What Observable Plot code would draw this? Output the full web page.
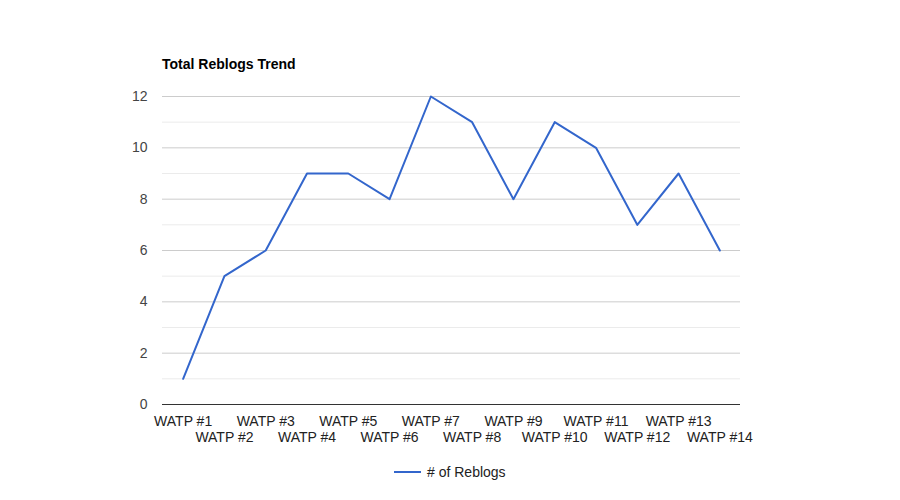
<!DOCTYPE html>
<html>
<head>
<meta charset="utf-8">
<script src="https://cdn.jsdelivr.net/npm/d3@7"></script>
<script src="https://cdn.jsdelivr.net/npm/@observablehq/plot@0.6"></script>
<style>
  html, body { margin: 0; padding: 0; background: #fff; }
  #wrap { position: relative; width: 900px; height: 500px; font-family: Arial, "Liberation Sans", sans-serif; }
  #title { position: absolute; left: 162px; top: 56px; font-size: 14px; font-weight: bold; color: #000; }
  #legend { position: absolute; left: 394px; top: 464px; font-size: 14px; color: #222; display: flex; align-items: center; }
  #legend .sw { width: 27px; height: 2px; background: #3366cc; margin-right: 6px; }
</style>
</head>
<body>
<div id="wrap">
  <div id="chart"></div>
  <div id="title">Total Reblogs Trend</div>
  <div id="legend"><span class="sw"></span><span># of Reblogs</span></div>
</div>
<script>
const categories = ["WATP #1","WATP #2","WATP #3","WATP #4","WATP #5","WATP #6","WATP #7","WATP #8","WATP #9","WATP #10","WATP #11","WATP #12","WATP #13","WATP #14"];
const reblogs = [1,5,6,9,9,8,12,11,8,11,10,7,9,6];
const majorTicks = [0,2,4,6,8,10,12];
const minorTicks = [1,3,5,7,9,11];

const data = categories.map((c, i) => ({cat: c, value: reblogs[i]}));
const rowA = categories.filter((c, i) => i % 2 === 0);
const rowB = categories.filter((c, i) => i % 2 === 1);

const chart = Plot.plot({
  width: 900,
  height: 500,
  marginLeft: 162,
  marginRight: 160,
  marginTop: 96,
  marginBottom: 96,
  style: {fontFamily: 'Arial, "Liberation Sans", sans-serif', fontSize: "14px", color: "#444", background: "transparent"},
  x: {type: "point", domain: categories, padding: 0.5, round: false},
  y: {domain: [0, 12]},
  marks: [
    Plot.ruleY(minorTicks, {stroke: "#ebebeb", strokeWidth: 1}),
    Plot.ruleY(majorTicks.filter(d => d !== 0), {stroke: "#cccccc", strokeWidth: 1}),
    Plot.axisY({ticks: majorTicks, tickSize: 0, tickPadding: 15, fill: "#444", fontSize: 14, label: null}),
    Plot.axisX({ticks: rowA, tickSize: 0, tickPadding: 12, fill: "#222", fontSize: 14, label: null}),
    Plot.axisX({ticks: rowB, tickSize: 0, tickPadding: 28, fill: "#222", fontSize: 14, label: null}),
    Plot.ruleY([0], {stroke: "#333", strokeWidth: 1}),
    Plot.line(data, {x: "cat", y: "value", stroke: "#3366cc", strokeWidth: 2})
  ]
});
document.getElementById("chart").appendChild(chart);
</script>
</body>
</html>
